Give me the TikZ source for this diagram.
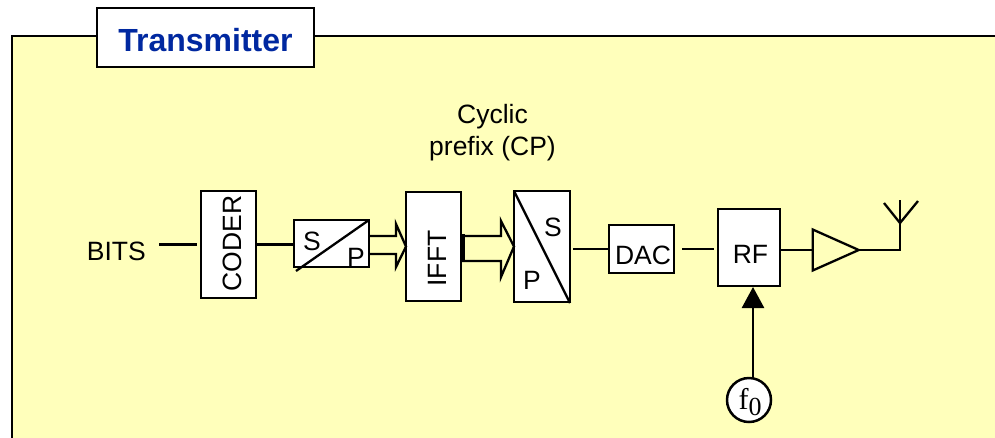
\documentclass[tikz,border=0pt]{standalone}
\usepackage{fontspec}
\setmainfont{Liberation Sans}
\newfontfamily\serifpart{Liberation Serif}
\usepackage[svgnames]{xcolor}
\usetikzlibrary{
  arrows.meta,
  shapes.geometric}
\definecolor{panelyellow}{RGB}{255,255,187}
\definecolor{titleblue}{RGB}{0,40,160}
\tikzset{
  block/.style={draw=black, fill=white, line width=2.5pt, inner sep=0pt, outer sep=0pt},
  wire/.style={draw=black, line width=2.3pt},
  label/.style={inner sep=0pt, font=\fontsize{26.5}{32}\selectfont}
}

\begin{document}
\begin{tikzpicture}[x=1pt, y=-1pt]
\useasboundingbox (0,0) rectangle (995,437);
\draw[line width=2.5pt, fill=panelyellow] (12,460) -- (12,36) -- (1010,36) -- (1010,460) -- cycle;
\node[block, minimum width=217pt, minimum height=59pt, text height=27pt, text depth=0pt, font=\fontsize{32}{36}\selectfont\bfseries, text=titleblue] (title) at (205.5,37.5) {Transmitter};

\node[label, align=center] (cp) at (492.5,133) {Cyclic\\prefix (CP)};
\node[label, anchor=east] (bits) at (146,251) {BITS};
\node[block, minimum width=55pt, minimum height=107pt] (coder) at (228.5,244.5) {};
\node[label, rotate=90] (coderlabel) at (232,243.5) {CODER};
\node[block, minimum width=75pt, minimum height=47pt] (sp) at (331.5,243.5) {};
\node[block, minimum width=55pt, minimum height=109pt] (ifft) at (433.5,246.5) {};
\node[label, rotate=90] (ifftlabel) at (437,258.5) {IFFT};
\node[block, minimum width=56pt, minimum height=111pt] (ps) at (542,246.5) {};
\node[block, minimum width=65pt, minimum height=48pt] (dac) at (641.5,249) {};
\node[label] (daclabel) at (643,255) {DAC};
\node[block, minimum width=62pt, minimum height=77pt] (rf) at (749,247.5) {};
\node[label] (rflabel) at (750.5,254) {RF};
\node[wire, isosceles triangle, isosceles triangle apex angle=48, minimum height=46pt, inner sep=0pt, outer sep=0pt, minimum width=41pt] (amp) at (826,250) {};
\node[block, circle, minimum size=44pt] (osc) at (749,400) {};
\node[inner sep=0pt] (osclabel) at (750,402) {\serifpart\fontsize{30}{34}\selectfont f\raisebox{-6pt}{\fontsize{26}{30}\selectfont 0}};

% labels of the converters
\draw[wire] ([xshift=2pt,yshift=-4pt]sp.south west) -- (sp.north east);
\node[label] (sps) at (312,241) {S};
\node[label] (spp) at (356,257) {P};
\draw[wire] (ps.north west) -- ([yshift=-1pt]ps.south east);
\node[label] (pss) at (553,227) {S};
\node[label] (psp) at (532,280) {P};

% wires
\draw[wire] ([xshift=13pt]bits.east |- coder.west) -- ([xshift=-4pt]coder.west);
\draw[wire] (coder.east) -- (coder.east -| sp.west);
\draw[wire] ([xshift=3pt]ps.east |- dac.west) -- ([xshift=-1pt]dac.west);
\draw[wire] ([xshift=8pt]dac.east) -- ([xshift=-4pt]rf.west |- dac.east);
\draw[wire] (rf.east |- amp.apex) -- (amp.apex -| amp.west);

% open block arrows
\coordinate (spout) at (sp.east);
\coordinate (ifftout) at (ifft.east);
\draw[wire, line join=miter] (spout |- 0,236) -- (396,236) -- (396,224) -- (ifft.west) -- (396,267) -- (396,254) -- (spout |- 0,254);
\draw[wire, line join=miter] (ifftout |- 0,236) -- (501,236) -- (501,221) -- (ps.west) -- (501,277) -- (501,261) -- (ifftout |- 0,261);
\draw[line width=4pt] (463,234) -- (463,262);

% antenna
\coordinate (ant) at (900,223);
\draw[wire] (amp.apex) -- (ant |- amp.apex) -- (900,200);
\draw[wire] (884,203) -- (ant) -- (918,201);

% oscillator input
\coordinate (rfin) at (753,287);
\draw[line width=2.6pt, -{Triangle[length=21pt,width=22pt]}] (rfin |- osc.north) -- (rfin);
\end{tikzpicture}
\end{document}
